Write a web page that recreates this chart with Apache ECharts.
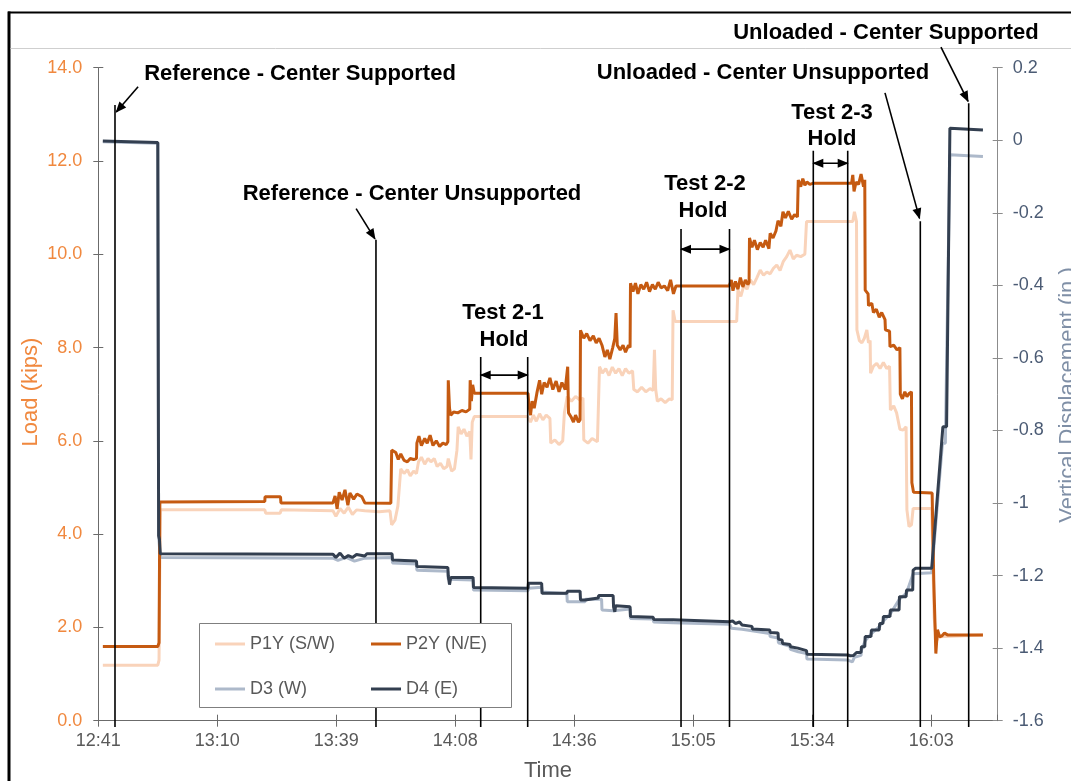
<!DOCTYPE html>
<html><head><meta charset="utf-8">
<script src="https://cdn.jsdelivr.net/npm/echarts@6/dist/echarts.min.js"></script>
<style>html,body{margin:0;padding:0;background:#fff}#c{width:1071px;height:781px}</style>
</head><body><div id="c"></div>
<script>
// x values: minutes after 12:41
const timeLabels = ['12:41','13:10','13:39','14:08','14:36','15:05','15:34','16:03'];
const timeStep = 28.8;
const timeMax = 217.67;

const p1y = [[1.1,1.19],[14.4,1.19],[14.7,1.30],[15.0,4.52],[40.3,4.52],[40.5,4.45],[44.0,4.45],[44.3,4.52],[56.8,4.50],[57.5,4.38],[58.5,4.55],[59.5,4.45],[60.5,4.58],[61.5,4.42],[62.5,4.52],[64.5,4.50],[68,4.48],[70.6,4.50],[71.0,4.20],[71.8,4.30],[72.5,4.60],[73.2,5.40],[74,5.30],[74.8,5.38],[75.5,5.25],[76.3,5.35],[77.0,5.30],[77.5,5.55],[78.2,5.65],[79,5.50],[79.8,5.62],[80.5,5.55],[81.3,5.62],[82,5.45],[82.8,5.52],[83.6,5.40],[84.4,5.45],[84.7,5.62],[85.5,5.35],[86.2,5.40],[86.8,5.80],[87.1,6.30],[87.8,6.15],[88.5,6.25],[89.2,6.10],[89.9,6.20],[90.2,5.60],[90.5,6.40],[91.0,6.52],[103.9,6.52],[104.6,6.40],[105.3,6.55],[106.0,6.42],[106.8,6.58],[107.6,6.45],[108.4,6.55],[109.3,6.48],[109.5,5.95],[110.5,6.02],[111.5,5.92],[112.4,6.00],[112.8,6.60],[113.5,6.95],[114.5,6.85],[115.5,6.95],[116.5,6.88],[117.3,6.92],[117.5,6.02],[118.5,5.95],[119.5,6.05],[120.8,5.98],[121.3,7.59],[122,7.45],[122.8,7.55],[123.6,7.40],[124.4,7.58],[125.2,7.45],[126,7.55],[126.8,7.40],[127.6,7.55],[128.4,7.45],[129.3,7.50],[129.6,7.10],[130.5,7.05],[131.5,7.15],[132.5,7.05],[133.5,7.12],[134.3,7.08],[134.6,7.95],[134.9,7.10],[135.3,6.85],[136.2,6.90],[137.2,6.82],[138.2,6.90],[138.9,6.88],[139.1,8.80],[139.6,8.56],[154.5,8.56],[154.8,9.23],[155.5,9.10],[156.3,9.35],[157,9.25],[157.8,9.45],[158.6,9.35],[159.4,9.50],[160.2,9.66],[161,9.55],[161.8,9.62],[162.6,9.58],[163.4,9.70],[164.2,9.77],[165,9.65],[165.8,9.85],[166.6,9.95],[167.4,10.09],[168.2,9.90],[169,9.98],[170,9.95],[171,10.0],[171.4,10.70],[182.6,10.70],[183.0,10.91],[183.5,10.70],[183.6,8.38],[184.2,8.15],[184.8,8.10],[185.4,8.20],[186.0,8.38],[186.4,8.10],[186.8,8.15],[186.9,7.45],[187.6,7.60],[188.4,7.66],[189.2,7.55],[190,7.68],[190.8,7.55],[191.5,7.60],[191.7,6.66],[192.5,6.75],[193.2,6.60],[194,6.25],[194.8,6.23],[195.5,6.30],[195.7,4.52],[196.2,4.16],[196.8,4.20],[197.2,4.55],[201.7,4.55],[202.3,2.2],[202.8,1.70],[203.4,1.80],[214.1,1.84]];

const p2y = [[1.1,1.59],[14.4,1.59],[14.7,1.67],[14.9,4.69],[40.3,4.70],[40.35,4.80],[44.1,4.80],[44.2,4.67],[56.8,4.67],[57.3,4.82],[57.8,4.54],[58.3,4.90],[59.0,4.73],[59.7,4.95],[60.4,4.62],[60.9,4.88],[61.8,4.75],[62.6,4.86],[63.8,4.80],[64.5,4.67],[70.8,4.66],[71.0,5.80],[72,5.75],[72.6,5.60],[73.2,5.72],[74,5.58],[74.8,5.55],[75.5,5.62],[76.3,5.60],[77.0,5.62],[77.1,5.95],[77.6,6.10],[78.2,5.90],[79,6.05],[79.6,5.95],[80.3,6.12],[81,5.90],[81.8,6.00],[82.6,5.88],[83.4,5.95],[84.2,5.92],[84.6,5.98],[84.7,7.30],[85.0,6.70],[85.3,6.55],[86,6.62],[87,6.60],[88,6.65],[89,6.62],[89.9,6.68],[90.0,7.30],[90.3,6.85],[90.6,7.20],[91.0,7.02],[104.0,7.02],[104.2,6.78],[104.6,6.55],[105.0,6.85],[105.5,6.70],[106.2,7.05],[106.8,7.30],[107.3,7.00],[107.9,7.25],[108.6,7.15],[109.3,7.35],[110,7.10],[110.8,7.28],[111.5,7.05],[112.2,7.25],[113.0,7.10],[113.6,7.59],[113.8,6.60],[114.5,6.50],[115,6.40],[115.5,6.55],[116.2,6.40],[116.6,6.45],[116.7,8.37],[117.5,8.20],[118.2,8.30],[119,8.15],[119.8,8.25],[120.5,8.10],[121.2,8.20],[121.9,8.05],[122.6,7.80],[123.2,7.95],[123.8,7.75],[124.5,8.00],[125.0,8.20],[125.3,8.74],[125.6,8.05],[126.3,7.95],[127,8.05],[127.6,7.90],[128.3,8.05],[128.7,8.00],[128.8,9.38],[129.4,9.20],[130,9.38],[130.6,9.15],[131.3,9.35],[132,9.25],[132.7,9.40],[133.4,9.20],[134.1,9.35],[134.8,9.25],[135.5,9.40],[136.2,9.28],[137,9.32],[137.8,9.22],[138.5,9.45],[139.2,9.15],[139.8,9.32],[152.7,9.32],[153.2,9.45],[153.6,9.22],[154.2,9.42],[154.8,9.25],[155.4,9.50],[156,9.30],[156.6,9.45],[157.2,9.35],[157.5,9.40],[157.6,10.35],[158.2,10.15],[158.8,10.30],[159.5,10.10],[160.2,10.25],[160.9,10.15],[161.5,10.30],[162.3,10.12],[162.6,10.45],[163.3,10.35],[164,10.50],[164.5,10.72],[165.2,10.60],[165.7,10.91],[166.3,10.78],[167,10.92],[167.8,10.75],[168.5,10.85],[169.2,10.80],[169.4,11.59],[170,11.45],[170.5,11.62],[171,11.48],[171.5,11.55],[172.2,11.50],[172.9,11.52],[182.3,11.52],[182.6,11.70],[182.9,11.35],[183.4,11.55],[184,11.50],[184.6,11.72],[185.2,11.45],[185.5,11.60],[185.6,9.23],[186.3,9.15],[186.4,8.90],[187.2,8.95],[187.6,8.75],[188.3,8.82],[189.0,8.65],[189.6,8.75],[190.4,8.60],[190.5,8.38],[191.5,8.35],[191.6,8.02],[192.5,8.05],[193.3,7.95],[194.0,8.00],[194.1,7.00],[194.6,6.90],[195.2,7.05],[195.7,6.95],[196.3,7.02],[196.8,7.05],[196.9,5.10],[197.3,4.90],[197.7,4.88],[201.8,4.88],[202.2,3.0],[202.7,1.44],[202.9,1.70],[203.1,1.95],[203.6,1.80],[204.2,1.82],[204.8,1.88],[205.5,1.84],[214.1,1.84]];

const d3 = [[1.1,-0.004],[14.4,-0.008],[14.6,-1.09],[14.8,-1.12],[15.0,-1.150],[56.8,-1.152],[58,-1.158],[60,-1.150],[62,-1.160],[64.5,-1.152],[71.1,-1.150],[71.2,-1.165],[77.0,-1.168],[77.1,-1.185],[84.6,-1.188],[84.7,-1.210],[90.7,-1.212],[90.8,-1.240],[104.0,-1.242],[104.1,-1.235],[107.3,-1.232],[107.4,-1.245],[113.4,-1.250],[113.5,-1.272],[117.8,-1.272],[117.9,-1.265],[121.8,-1.265],[121.9,-1.295],[124.6,-1.297],[124.7,-1.292],[128.7,-1.292],[128.8,-1.318],[134.3,-1.320],[134.4,-1.328],[139.1,-1.330],[139.2,-1.334],[152.8,-1.334],[153.2,-1.345],[155.8,-1.348],[158.2,-1.352],[158.3,-1.355],[162.5,-1.360],[162.6,-1.368],[164.5,-1.372],[164.6,-1.385],[167.4,-1.395],[167.5,-1.403],[169.4,-1.410],[171.4,-1.415],[171.5,-1.430],[181.4,-1.433],[182.5,-1.438],[183.0,-1.425],[184.6,-1.420],[184.7,-1.405],[185.6,-1.380],[187.1,-1.360],[189.1,-1.340],[190,-1.325],[191.7,-1.305],[193.9,-1.265],[195.6,-1.248],[197.2,-1.195],[201.7,-1.192],[204.3,-0.835],[205.0,-0.835],[206.1,-0.040],[214.1,-0.045]];

const d4 = [[1.1,-0.002],[14.4,-0.006],[14.6,-1.09],[14.8,-1.10],[15.0,-1.140],[56.8,-1.141],[57.5,-1.150],[58.5,-1.138],[59.5,-1.152],[60.5,-1.145],[61.5,-1.150],[62.5,-1.142],[64.5,-1.146],[65,-1.140],[71.1,-1.140],[71.2,-1.157],[77.0,-1.160],[77.1,-1.175],[84.6,-1.178],[84.7,-1.201],[85.0,-1.225],[85.3,-1.205],[90.7,-1.205],[90.8,-1.233],[104.0,-1.235],[104.1,-1.221],[107.3,-1.221],[107.4,-1.249],[113.4,-1.249],[113.5,-1.243],[116.6,-1.243],[116.7,-1.267],[117.8,-1.267],[117.9,-1.262],[121.0,-1.262],[121.1,-1.255],[124.6,-1.255],[124.7,-1.286],[125.0,-1.300],[125.2,-1.283],[128.7,-1.286],[128.8,-1.313],[134.3,-1.315],[134.4,-1.321],[139.1,-1.322],[139.2,-1.327],[152.8,-1.327],[153.5,-1.325],[154.2,-1.332],[155.2,-1.328],[155.8,-1.336],[158.2,-1.340],[158.3,-1.347],[162.5,-1.350],[162.6,-1.357],[164.5,-1.358],[164.6,-1.375],[165.5,-1.378],[165.6,-1.387],[167.4,-1.390],[167.5,-1.396],[169.3,-1.400],[169.4,-1.405],[171.4,-1.407],[171.5,-1.417],[181.4,-1.419],[182.0,-1.421],[182.4,-1.426],[182.8,-1.420],[183.5,-1.412],[184.6,-1.412],[184.7,-1.396],[185.5,-1.396],[185.6,-1.368],[187.0,-1.368],[187.1,-1.350],[189.0,-1.350],[189.1,-1.332],[189.9,-1.332],[190.0,-1.313],[191.6,-1.313],[191.7,-1.295],[193.8,-1.295],[193.9,-1.258],[195.5,-1.258],[195.6,-1.240],[197.1,-1.240],[197.2,-1.185],[197.8,-1.180],[201.7,-1.180],[204.4,-0.79],[205.3,-0.79],[206.1,0.033],[214.1,0.028]];

// annotation segments: [t1, load1, t2, load2, kind] kind 0 line, 1 arrow at end, 2 double arrow
const annotations = [
  [4.04,13.20,4.04,-0.135,0],
  [67.2,10.31,67.2,-0.135,0],
  [92.55,7.80,92.55,-0.135,0],
  [103.92,7.80,103.92,-0.135,0],
  [141.03,10.54,141.03,-0.135,0],
  [152.76,10.54,152.76,-0.135,0],
  [173.04,12.22,173.04,-0.135,0],
  [181.37,12.22,181.37,-0.135,0],
  [198.94,10.71,198.94,-0.135,0],
  [210.65,13.24,210.65,-0.135,0],
  [9.63,13.59,4.35,13.05,1],
  [62.4,10.98,66.95,10.33,1],
  [92.55,7.41,103.92,7.41,2],
  [141.03,10.11,152.76,10.11,2],
  [173.04,11.95,181.37,11.95,2],
  [190.39,13.46,198.75,10.77,1],
  [203.94,14.44,210.5,13.28,1]
];

const labelTexts = [
  ['Reference - Center Supported',300,74],
  ['Reference - Center Unsupported',412,194],
  ['Test 2-1',503,313],['Hold',504,340],
  ['Test 2-2',705,184],['Hold',703,211],
  ['Test 2-3',832,113],['Hold',832,139],
  ['Unloaded - Center Unsupported',763,73],
  ['Unloaded - Center Supported',886,33]
];

const chart = echarts.init(document.getElementById('c'), null, {renderer:'canvas'});

function renderAnno(params, api) {
  const a = api.coord([api.value(0), api.value(1)]);
  const b = api.coord([api.value(2), api.value(3)]);
  const kind = api.value(4);
  const ch = [{type:'line', shape:{x1:a[0],y1:a[1],x2:b[0],y2:b[1]}, style:{stroke:'#000', lineWidth:1.6}}];
  function head(p, q) {
    const dx = p[0]-q[0], dy = p[1]-q[1];
    const L = Math.hypot(dx,dy) || 1;
    const ux = dx/L, uy = dy/L, len = 10, w = 4.5;
    const bx = p[0]-ux*len, by = p[1]-uy*len;
    return {type:'polygon', shape:{points:[[p[0]+ux,p[1]+uy],[bx-uy*w,by+ux*w],[bx+uy*w,by-ux*w]]}, style:{fill:'#000'}};
  }
  if (kind >= 1) ch.push(head(b,a));
  if (kind === 2) ch.push(head(a,b));
  return {type:'group', children:ch};
}

const graphics = [
  {type:'line', shape:{x1:8,y1:12.5,x2:1071,y2:12.5}, style:{stroke:'#000',lineWidth:2}},
  {type:'line', shape:{x1:9,y1:11.5,x2:9,y2:781}, style:{stroke:'#000',lineWidth:3}},
  {type:'line', shape:{x1:10.5,y1:48.5,x2:1071,y2:48.5}, style:{stroke:'#cfcfcf',lineWidth:1}},
  {type:'rect', shape:{x:199.5,y:623.5,width:312,height:84}, style:{fill:'#fff',stroke:'#7f7f7f',lineWidth:1}, z:5},
  {type:'text', x:548, y:771, style:{text:'Time', fontSize:22, fontFamily:'Liberation Sans, Arial', fill:'#595959', textAlign:'center', textVerticalAlign:'middle'}},
  {type:'text', x:31, y:392, rotation:Math.PI/2, style:{text:'Load (kips)', fontSize:22, fontFamily:'Liberation Sans, Arial', fill:'#F0883E', textAlign:'center', textVerticalAlign:'middle'}},
  {type:'text', x:1068, y:395, rotation:Math.PI/2, style:{text:'Vertical Displacement (in.)', fontSize:22, fontFamily:'Liberation Sans, Arial', fill:'#7F8FA6', textAlign:'center', textVerticalAlign:'middle'}}
];
labelTexts.forEach(function (l) {
  graphics.push({type:'text', x:l[1], y:l[2], z:20, style:{text:l[0], fontSize:22, fontWeight:'bold', fontFamily:'Liberation Sans, Arial', fill:'#000', textAlign:'center', textVerticalAlign:'middle'}});
});

const font = 'Liberation Sans, Arial';
const axisGray = '#6b6b6b';

const option = {
  animation:false,
  backgroundColor:'#fff',
  grid:{left:98.3, right:73.3, top:67.7, bottom:60.3, outerBoundsMode:'none', containLabel:false},
  xAxis:[{
    type:'value', min:0, max:timeMax, interval:timeStep, position:'bottom',
    axisLine:{show:true, onZero:false, lineStyle:{color:axisGray, width:1}},
    axisTick:{show:true, length:6, lineStyle:{color:axisGray}},
    splitLine:{show:false},
    axisLabel:{margin:11, fontSize:18, fontFamily:font, color:'#595959', showMaxLabel:false,
      formatter:function (v) { const i = Math.round(v/timeStep); return Math.abs(v - i*timeStep) < 0.05 && timeLabels[i] ? timeLabels[i] : ''; }}
  },{
    type:'value', min:0, max:timeMax, interval:timeStep, position:'bottom',
    axisLine:{show:false, onZero:false}, axisLabel:{show:false}, splitLine:{show:false},
    axisTick:{show:true, inside:true, length:6, lineStyle:{color:axisGray}}
  }],
  yAxis:[{
    type:'value', min:0, max:14, interval:2, position:'left',
    axisLine:{show:true, onZero:false, lineStyle:{color:axisGray}},
    axisTick:{show:true, length:5, lineStyle:{color:axisGray}},
    splitLine:{show:false},
    axisLabel:{margin:16, fontSize:18, fontFamily:font, color:'#F0883E', formatter:function (v) { return v.toFixed(1); }}
  },{
    type:'value', min:-1.6, max:0.2, interval:0.2, position:'right',
    axisLine:{show:true, onZero:false, lineStyle:{color:'#8c8c8c'}},
    axisTick:{show:true, length:5, lineStyle:{color:'#8c8c8c'}},
    splitLine:{show:false},
    axisLabel:{margin:15, fontSize:18, fontFamily:font, color:'#4B5B74', formatter:function (v) { const r = Math.round(v*10)/10; return r === 0 ? '0' : String(r); }}
  },{
    type:'value', min:0, max:14, interval:2, position:'left',
    axisLine:{show:false, onZero:false}, axisLabel:{show:false}, splitLine:{show:false},
    axisTick:{show:true, inside:true, length:5, lineStyle:{color:axisGray}}
  },{
    type:'value', min:-1.6, max:0.2, interval:0.2, position:'right',
    axisLine:{show:false, onZero:false}, axisLabel:{show:false}, splitLine:{show:false},
    axisTick:{show:true, inside:true, length:5, lineStyle:{color:'#8c8c8c'}}
  }],
  legend:[{
    data:['P1Y (S/W)','D3 (W)'], orient:'vertical', left:215, top:634, padding:0,
    itemWidth:30, itemHeight:3, itemGap:25, icon:'rect', z:10,
    textStyle:{fontSize:18, fontFamily:font, color:'#595959', lineHeight:20}
  },{
    data:['P2Y (N/E)','D4 (E)'], orient:'vertical', left:371, top:634, padding:0,
    itemWidth:30, itemHeight:3, itemGap:25, icon:'rect', z:10,
    textStyle:{fontSize:18, fontFamily:font, color:'#595959', lineHeight:20}
  }],
  graphic:graphics,
  series:[
    {name:'P1Y (S/W)', type:'line', xAxisIndex:0, yAxisIndex:0, data:p1y, showSymbol:false, symbol:'none', color:'#F9D3BA', lineStyle:{width:3, color:'#F9D3BA'}, z:2},
    {name:'P2Y (N/E)', type:'line', xAxisIndex:0, yAxisIndex:0, data:p2y, showSymbol:false, symbol:'none', color:'#C55A11', lineStyle:{width:3, color:'#C55A11'}, z:3},
    {name:'D3 (W)', type:'line', xAxisIndex:0, yAxisIndex:1, data:d3, showSymbol:false, symbol:'none', color:'#ADB9CA', lineStyle:{width:3, color:'#ADB9CA'}, z:2},
    {name:'D4 (E)', type:'line', xAxisIndex:0, yAxisIndex:1, data:d4, showSymbol:false, symbol:'none', color:'#333F50', lineStyle:{width:3, color:'#333F50'}, z:3},
    {name:'annotations', type:'custom', xAxisIndex:0, yAxisIndex:0, data:annotations, renderItem:renderAnno, clip:false, silent:true, z:4,
      encode:{x:[0,2], y:[1,3]}}
  ]
};
chart.setOption(option);
</script>
</body></html>
